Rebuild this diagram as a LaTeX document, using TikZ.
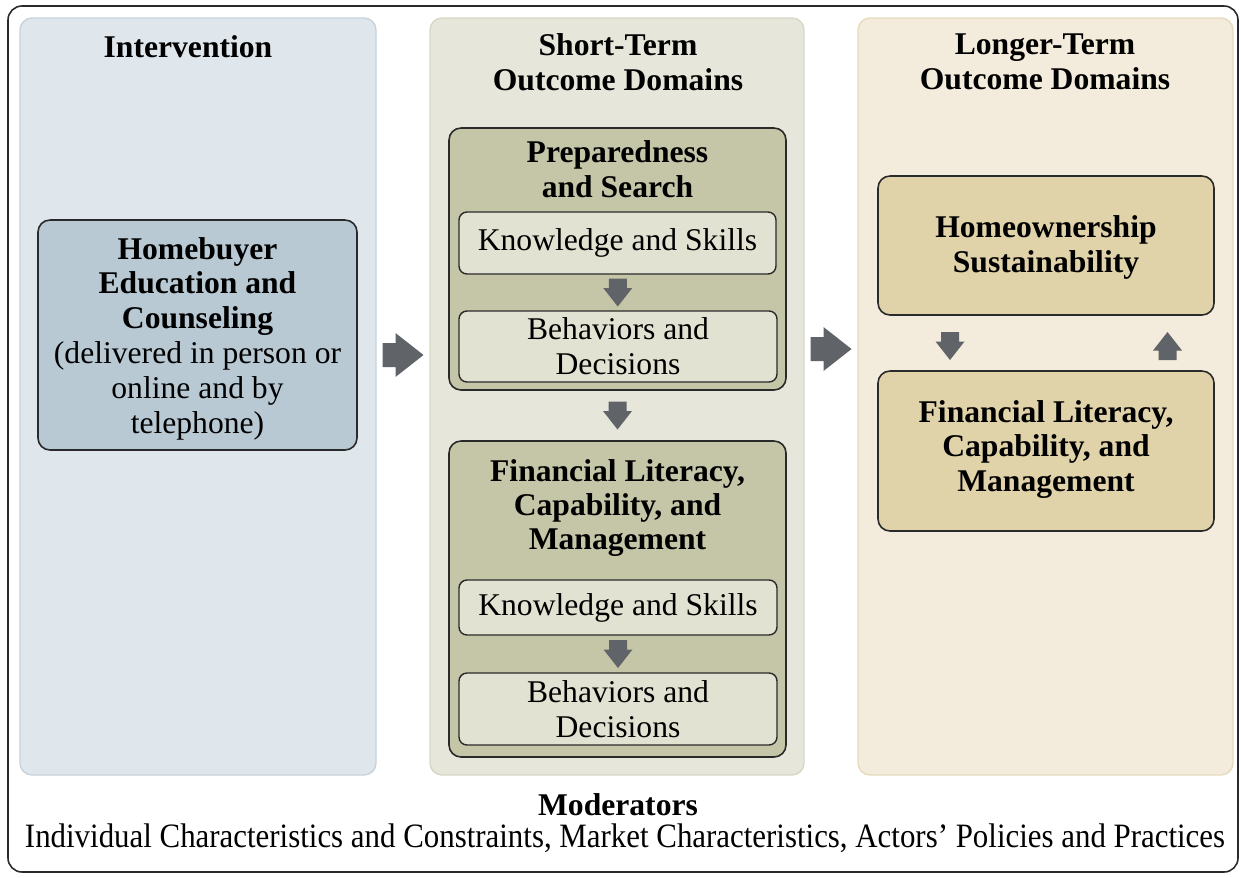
\documentclass[tikz,border=0pt]{standalone}
\usepackage{fontspec}
\setmainfont{Liberation Serif}
\usetikzlibrary{calc}

\definecolor{frameline}{HTML}{2A2A2A}
\definecolor{colIfill}{HTML}{E0E7EC}
\definecolor{colIline}{HTML}{C6D2DC}
\definecolor{colSfill}{HTML}{E6E7DA}
\definecolor{colSline}{HTML}{D6D8C4}
\definecolor{colLfill}{HTML}{F3EBDB}
\definecolor{colLline}{HTML}{E6DBBE}
\definecolor{hbfill}{HTML}{B8C9D3}
\definecolor{outerfill}{HTML}{C5C6A8}
\definecolor{innerfill}{HTML}{E2E2D2}
\definecolor{longfill}{HTML}{E0D2A9}
\definecolor{arrowgray}{HTML}{606367}

\begin{document}
\begin{tikzpicture}[x=0.02cm, y=-0.02cm,
  every node/.style={font=\fontsize{18}{19.8}\selectfont, inner sep=0pt, align=center},
  column/.style={rounded corners=12*0.02cm, line width=0.8pt},
  bigbox/.style={draw=frameline, rounded corners=12*0.02cm, line width=0.9pt},
  smallbox/.style={draw=frameline, rounded corners=8*0.02cm, line width=0.8pt, fill=innerfill},
  heading/.style={font=\fontsize{18}{19.6}\selectfont\bfseries},
  blockarrow/.style={fill=arrowgray, draw=none}
]
\useasboundingbox (0,0) rectangle (1241,877);

% outer frame
\node[draw=frameline, line width=0.9pt, rounded corners=14*0.02cm,
      minimum width=1230*0.02cm, minimum height=866*0.02cm] (frame) at (623,439) {};

% three columns
\node[column, fill=colIfill, draw=colIline, minimum width=356*0.02cm, minimum height=757*0.02cm] (colI) at (198,396.5) {};
\node[column, fill=colSfill, draw=colSline, minimum width=374*0.02cm, minimum height=757*0.02cm] (colS) at (617,396.5) {};
\node[column, fill=colLfill, draw=colLline, minimum width=375*0.02cm, minimum height=757*0.02cm] (colL) at (1045.5,396.5) {};

% column headings
\node[heading] (tI) at (188,47) {Intervention};
\node[heading] (tS) at (618,62) {Short-Term\\Outcome Domains};
\node[heading] (tL) at (1045,62) {Longer-Term\\Outcome Domains};

% intervention box
\node[bigbox, fill=hbfill, minimum width=319*0.02cm, minimum height=230*0.02cm] (hb) at (197.5,335) {};
\node (hbtext) at (197.5,338.5) {\bfseries Homebuyer\\\bfseries Education and\\\bfseries Counseling\\(delivered in person or\\online and by\\telephone)};

% short-term: preparedness and search
\node[bigbox, fill=outerfill, minimum width=337*0.02cm, minimum height=262*0.02cm] (prep) at (617.5,259) {};
\node[heading] (preptitle) at (617.5,169) {Preparedness\\and Search};
\node[smallbox, minimum width=317*0.02cm, minimum height=62*0.02cm] (ks1) at (617.5,243) {Knowledge and Skills};
\node[smallbox, minimum width=318*0.02cm, minimum height=71*0.02cm] (bd1) at (618,346.5) {Behaviors and\\Decisions};

% short-term: financial literacy
\node[bigbox, fill=outerfill, minimum width=337*0.02cm, minimum height=316*0.02cm] (fin) at (617.5,599) {};
\node[heading] (fintitle) at (617.5,508) {Financial Literacy,\\Capability, and\\Management};
\node[smallbox, minimum width=318*0.02cm, minimum height=55*0.02cm] (ks2) at (618,607.5) {Knowledge and Skills};
\node[smallbox, minimum width=318*0.02cm, minimum height=72*0.02cm] (bd2) at (618,709) {Behaviors and\\Decisions};

% longer-term boxes
\node[bigbox, fill=longfill, minimum width=336*0.02cm, minimum height=139*0.02cm] (hs) at (1046,245.5) {};
\node[heading] (hstitle) at (1046,247.5) {Homeownership\\Sustainability};
\node[bigbox, fill=longfill, minimum width=336*0.02cm, minimum height=160*0.02cm] (fl) at (1046,451) {};
\node[heading] (fltitle) at (1046,449.5) {Financial Literacy,\\Capability, and\\Management};

% moderators
\node[heading] (modtitle) at (618,805) {Moderators};
\node (modtext) at (625,838) {\resizebox{683pt}{1.08\height}{Individual Characteristics and Constraints, Market Characteristics, Actors’ Policies and Practices}};

% arrow anchor points
\coordinate (a1) at ($(colI.east)!0.5!(colS.west)+(0,-41.5)$);
\coordinate (a2) at ($(colS.east)!0.5!(colL.west)+(0,-47.5)$);
\coordinate (d1) at ($(ks1.south)!0.5!(bd1.north)$);
\coordinate (d2) at ($(prep.south)!0.5!(fin.north)$);
\coordinate (d3) at ($(ks2.south)!0.5!(bd2.north)$);
\coordinate (d4) at ($(hs.south)!0.5!(fl.north)+(-96,3)$);
\coordinate (u1) at ($(hs.south)!0.5!(fl.north)+(121.5,3)$);

% big right arrows
\foreach \c in {a1,a2}{
  \fill[blockarrow] (\c) +(-20.5,-12) -- +(-7.5,-12) -- +(-7.5,-22) -- +(20.5,0)
     -- +(-7.5,22) -- +(-7.5,12) -- +(-20.5,12) -- cycle;
}
% small down arrows
\foreach \c in {d1,d2,d3,d4}{
  \fill[blockarrow] (\c) +(-9,-14) -- +(9,-14) -- +(9,-4.5) -- +(14.5,-4.5) -- +(0,14)
     -- +(-14.5,-4.5) -- +(-9,-4.5) -- cycle;
}
% small up arrow
\fill[blockarrow] (u1) +(-9,14) -- +(9,14) -- +(9,4.5) -- +(14.5,4.5) -- +(0,-14)
     -- +(-14.5,4.5) -- +(-9,4.5) -- cycle;
\end{tikzpicture}
\end{document}
